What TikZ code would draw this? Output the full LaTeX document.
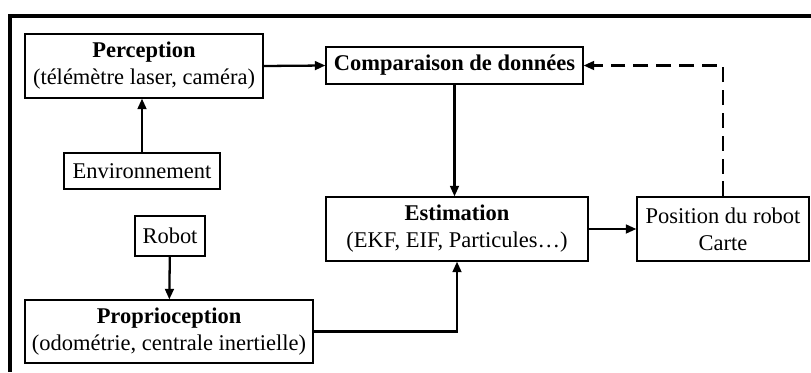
\documentclass[tikz,border=0pt]{standalone}
\usepackage{fontspec}
\setmainfont{Liberation Serif}
\usepackage{tikz}
\usetikzlibrary{arrows.meta}

\begin{document}
\begin{tikzpicture}[x=0.02cm,y=-0.02cm,->,>={Triangle[length=6pt,width=5pt]},
                    line width=1.3pt,
                    font=\fontsize{12.8}{15.3}\selectfont,
                    bloc/.style={draw,line width=0.7pt,align=center,inner sep=0pt}]
%  \tikzset{every node/.style={fill=white}}
  \useasboundingbox (0,0) rectangle (811,372);
  \draw[-,line width=2pt] (811,16) -| (10,372);

  \node[bloc,minimum width=238*0.02cm,minimum height=64*0.02cm] (perc) at (144,66)
        {\textbf{Perception}\\(télémètre laser, caméra)};
  \node[bloc,minimum width=156*0.02cm,minimum height=36*0.02cm] (env) at (142,171)
        {Environnement};
  \node[bloc,minimum width=257*0.02cm,minimum height=37*0.02cm] (comp) at (454.5,65.5)
        {\textbf{Comparaison de données}};
  \node[bloc,minimum width=262*0.02cm,minimum height=64*0.02cm] (est) at (457,229)
        {\textbf{Estimation}\\(EKF, EIF, Particules\ldots)};
  \node[bloc,minimum width=172*0.02cm,minimum height=64*0.02cm] (pos) at (723,229)
        {Position du robot\\Carte};
  \node[bloc,minimum width=70*0.02cm,minimum height=40*0.02cm] (robot) at (170,236)
        {Robot};
  \node[bloc,minimum width=288*0.02cm,minimum height=63*0.02cm] (prop) at (169,331.5)
        {\textbf{Proprioception}\\(odométrie, centrale inertielle)};

  \path (env.north) edge (env.north |- perc.south)
        (perc.east) edge (comp.west)
        (comp.south) edge (comp.south |- est.north)
        (est.east) edge (pos.west)
        (robot) edge (prop);
  \draw (prop.east) -| (est.south);
  \draw[dash pattern=on 8.5pt off 4.5pt] (pos.north) |- (comp.east);
\end{tikzpicture}
\end{document}
